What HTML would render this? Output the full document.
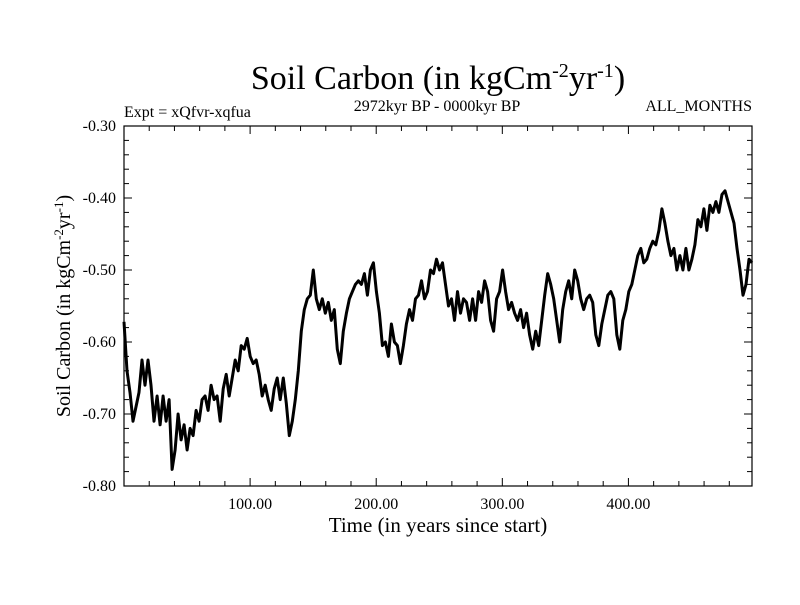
<!DOCTYPE html>
<html><head><meta charset="utf-8"><style>
body{margin:0;background:#fff}
svg text{font-family:"Liberation Serif",serif;fill:#000}
</style></head><body>
<svg width="800" height="600">
<text x="438" y="89" font-size="34" text-anchor="middle">Soil Carbon (in kgCm<tspan dy="-12" font-size="20">-2</tspan><tspan dy="12">yr</tspan><tspan dy="-12" font-size="20">-1</tspan><tspan dy="12">)</tspan></text>
<text x="124" y="117" font-size="16">Expt = xQfvr-xqfua</text>
<text x="437" y="111" font-size="16" text-anchor="middle">2972kyr BP - 0000kyr BP</text>
<text x="752" y="111" font-size="16" text-anchor="end">ALL_MONTHS</text>
<g id="axes"></g>
<rect x="124" y="126" width="628" height="360" fill="none" stroke="#000" stroke-width="1.2"/>
<path id="series" fill="none" stroke="#000" stroke-width="3" stroke-linejoin="round"/>
<text x="438" y="532" font-size="21" text-anchor="middle">Time (in years since start)</text>
<text transform="translate(70,306) rotate(-90)" font-size="20" text-anchor="middle">Soil Carbon (in kgCm<tspan dy="-7" font-size="13">-2</tspan><tspan dy="7">yr</tspan><tspan dy="-7" font-size="13">-1</tspan><tspan dy="7">)</tspan></text>
</svg>
<script>
const xTicks=[100,200,300,400];
const xTickLabels=["100.00","200.00","300.00","400.00"];
const yTicks=[-0.3,-0.4,-0.5,-0.6,-0.7,-0.8];
const yTickLabels=["-0.30","-0.40","-0.50","-0.60","-0.70","-0.80"];
const values=[-0.572,-0.64,-0.67,-0.71,-0.69,-0.67,-0.625,-0.66,-0.625,-0.66,-0.71,-0.675,-0.715,-0.675,-0.71,-0.68,-0.777,-0.75,-0.70,-0.736,-0.715,-0.75,-0.72,-0.73,-0.695,-0.71,-0.68,-0.675,-0.695,-0.66,-0.68,-0.675,-0.71,-0.665,-0.645,-0.675,-0.65,-0.625,-0.64,-0.605,-0.61,-0.595,-0.62,-0.63,-0.625,-0.645,-0.675,-0.66,-0.68,-0.695,-0.665,-0.65,-0.68,-0.65,-0.685,-0.73,-0.71,-0.68,-0.64,-0.585,-0.555,-0.54,-0.535,-0.50,-0.54,-0.555,-0.54,-0.56,-0.545,-0.57,-0.555,-0.61,-0.63,-0.585,-0.56,-0.54,-0.53,-0.52,-0.515,-0.52,-0.505,-0.535,-0.50,-0.49,-0.53,-0.56,-0.605,-0.60,-0.62,-0.575,-0.60,-0.605,-0.63,-0.605,-0.575,-0.555,-0.57,-0.54,-0.535,-0.515,-0.54,-0.53,-0.50,-0.505,-0.485,-0.50,-0.49,-0.52,-0.55,-0.54,-0.57,-0.53,-0.56,-0.54,-0.545,-0.57,-0.54,-0.57,-0.53,-0.545,-0.515,-0.53,-0.57,-0.585,-0.54,-0.53,-0.50,-0.53,-0.555,-0.545,-0.56,-0.57,-0.555,-0.58,-0.56,-0.59,-0.61,-0.585,-0.605,-0.57,-0.535,-0.505,-0.52,-0.54,-0.57,-0.60,-0.555,-0.53,-0.515,-0.54,-0.50,-0.515,-0.54,-0.555,-0.54,-0.535,-0.545,-0.59,-0.605,-0.575,-0.555,-0.535,-0.53,-0.54,-0.59,-0.61,-0.57,-0.555,-0.53,-0.52,-0.50,-0.48,-0.47,-0.49,-0.485,-0.47,-0.46,-0.465,-0.445,-0.415,-0.435,-0.46,-0.48,-0.47,-0.50,-0.48,-0.50,-0.47,-0.50,-0.485,-0.465,-0.43,-0.44,-0.415,-0.445,-0.41,-0.42,-0.405,-0.42,-0.395,-0.39,-0.405,-0.42,-0.435,-0.47,-0.50,-0.535,-0.52,-0.485,-0.49];
const xMax=498;
const X=v=>124+(v/xMax)*628;
const Y=v=>126+(-0.3-v)/0.5*360;
const ns="http://www.w3.org/2000/svg";
const g=document.getElementById('axes');
function mk(t,a){const e=document.createElementNS(ns,t);for(const k in a)e.setAttribute(k,a[k]);g.appendChild(e);return e;}
for(let v=20;v<xMax;v+=20){const x=X(v),big=v%100===0,L=big?8:5;
 const t1=mk('line',{x1:x,x2:x,y1:486,y2:486-L,stroke:'#000'});
 
 
 const t2=mk('line',{x1:x,x2:x,y1:126,y2:126+L,stroke:'#000'});
 
 }
for(let i=0;i<=25;i++){const v=-0.3-i*0.02,y=Y(v),big=i%5===0,L=big?8:5;
 const t1=mk('line',{x1:124,x2:124+L,y1:y,y2:y,stroke:'#000'});
 
 
 const t2=mk('line',{x1:752,x2:752-L,y1:y,y2:y,stroke:'#000'});
 
 }
xTicks.forEach((v,i)=>{const t=mk('text',{x:X(v),y:509,'font-size':16,'text-anchor':'middle'});t.textContent=xTickLabels[i];
 
 });
yTicks.forEach((v,i)=>{const t=mk('text',{x:116,y:Y(v)+5,'font-size':16,'text-anchor':'end'});t.textContent=yTickLabels[i];
 
 });
const step=xMax/(values.length-1);
document.getElementById('series').setAttribute('d',values.map((v,i)=>(i?'L':'M')+X(i*step).toFixed(1)+','+Y(v).toFixed(1)).join(''));
</script>
</body></html>
